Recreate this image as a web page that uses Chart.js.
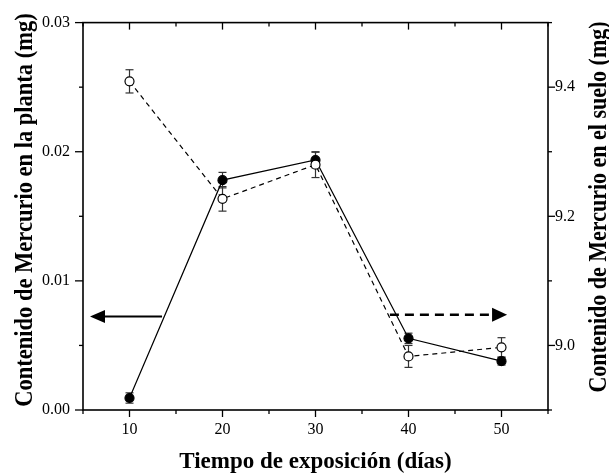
<!DOCTYPE html>
<html>
<head>
<meta charset="utf-8">
<script src="https://cdn.jsdelivr.net/npm/chart.js@4/dist/chart.umd.min.js"></script>
<style>
  html, body { margin: 0; padding: 0; background: #fff; }
</style>
</head>
<body>
<canvas id="c" width="609" height="474"></canvas>
<script>
'use strict';

// exposure time (days)
const days = [10, 20, 30, 40, 50];
// Hg in plant (mg), left axis
const plantHg = [0.00093, 0.0178, 0.01936, 0.00555, 0.00378];
const plantErr = [0.0004, 0.0006, 0.0006, 0.0004, 0.0003];
// Hg in soil (mg), right axis
const soilHg = [9.409, 9.227, 9.280, 8.983, 8.997];
const soilErr = [0.018, 0.019, 0.020, 0.017, 0.015];
// arrows pointing to their axis: [x from, x to, y]
const plantArrow = [13.5, 5.75, 0.00725];
const soilArrow = [38, 50.6, 9.0475];

const SERIF = '"Liberation Serif", "Times New Roman", serif';
const TICKFONT = { family: SERIF, size: 16 };

function seg(ctx, x0, y0, x1, y1) {
  ctx.beginPath();
  ctx.moveTo(x0, y0);
  ctx.lineTo(x1, y1);
  ctx.stroke();
}

function arrow(ctx, xs, ys, a, dash, lw, len, half) {
  const x0 = xs.getPixelForValue(a[0]);
  const x1 = xs.getPixelForValue(a[1]);
  const y = ys.getPixelForValue(a[2]);
  const dir = Math.sign(x1 - x0);
  ctx.save();
  ctx.strokeStyle = '#000';
  ctx.fillStyle = '#000';
  ctx.lineWidth = lw;
  ctx.setLineDash(dash);
  seg(ctx, x0, y, x1 - dir * len, y);
  ctx.setLineDash([]);
  ctx.beginPath();
  ctx.moveTo(x1, y);
  ctx.lineTo(x1 - dir * len, y - half);
  ctx.lineTo(x1 - dir * len, y + half);
  ctx.closePath();
  ctx.fill();
  ctx.restore();
}

// rotated axis title, a bit taller across the line like the original
function vTitle(ctx, text, x, y, size) {
  ctx.save();
  ctx.translate(x, y);
  ctx.rotate(-Math.PI / 2);
  ctx.scale(1, 1.15);
  ctx.font = 'bold ' + size + 'px ' + SERIF;
  ctx.fillText(text, 0, 0);
  ctx.restore();
}

const decor = {
  id: 'decor',
  beforeDatasetsDraw(chart) {
    const ctx = chart.ctx, xs = chart.scales.x;
    const sets = [[chart.scales.y, plantHg, plantErr], [chart.scales.y1, soilHg, soilErr]];
    ctx.save();
    ctx.strokeStyle = '#333';
    ctx.lineWidth = 1.2;
    sets.forEach(([sc, vals, errs]) => {
      vals.forEach((v, i) => {
        const px = xs.getPixelForValue(days[i]);
        const t = sc.getPixelForValue(v + errs[i]);
        const b = sc.getPixelForValue(v - errs[i]);
        seg(ctx, px, t, px, b);
        seg(ctx, px - 4, t, px + 4, t);
        seg(ctx, px - 4, b, px + 4, b);
      });
    });
    ctx.restore();
  },
  afterDatasetsDraw(chart) {
    const ctx = chart.ctx;
    arrow(ctx, chart.scales.x, chart.scales.y, plantArrow, [], 2, 15, 6.5);
    arrow(ctx, chart.scales.x, chart.scales.y1, soilArrow, [9, 6], 2.5, 15, 7);
  },
  afterDraw(chart) {
    const ctx = chart.ctx;
    const { left, right, top, bottom } = chart.chartArea;
    const { x, y, y1 } = chart.scales;
    ctx.save();
    ctx.strokeStyle = '#000';
    ctx.lineWidth = 1.6;
    ctx.strokeRect(left, top, right - left, bottom - top);
    ctx.lineWidth = 1.3;
    x.ticks.forEach((t) => {
      const p = x.getPixelForValue(t.value);
      const L = t.label ? 7 : 4;
      seg(ctx, p, bottom, p, bottom + L);
      seg(ctx, p, top, p, top + L);
    });
    y.ticks.forEach((t) => {
      const p = y.getPixelForValue(t.value);
      seg(ctx, left - (t.label ? 8 : 4), p, left, p);
    });
    y1.ticks.forEach((t) => {
      const p = y1.getPixelForValue(t.value);
      seg(ctx, right, p, right + (t.label ? 7 : 4), p);
    });

    // axis titles
    ctx.fillStyle = '#000';
    ctx.textAlign = 'center';
    ctx.textBaseline = 'alphabetic';
    ctx.font = 'bold 23px ' + SERIF;
    ctx.fillText('Tiempo de exposición (días)', (left + right) / 2, 468);
    vTitle(ctx, 'Contenido de Mercurio en la planta (mg)', 32, 210, 22.5);
    vTitle(ctx, 'Contenido de Mercurio en el suelo (mg)', 606, 207, 22);
    ctx.restore();
  },
};

new Chart(document.getElementById('c'), {
  type: 'line',
  data: {
    datasets: [
      {
        label: 'planta',
        data: days.map((d, i) => ({ x: d, y: plantHg[i] })),
        yAxisID: 'y',
        order: 1,
        borderColor: '#000',
        borderWidth: 1.2,
        backgroundColor: '#000',
        pointBackgroundColor: '#000',
        pointBorderColor: '#000',
        pointRadius: 4.5,
        tension: 0,
      },
      {
        label: 'suelo',
        data: days.map((d, i) => ({ x: d, y: soilHg[i] })),
        yAxisID: 'y1',
        order: 0,
        borderColor: '#000',
        borderWidth: 1.2,
        borderDash: [5, 4],
        pointBackgroundColor: '#fff',
        pointBorderColor: '#000',
        pointBorderWidth: 1.2,
        pointRadius: 4.5,
        tension: 0,
      },
    ],
  },
  options: {
    responsive: false,
    devicePixelRatio: 1,
    animation: false,
    layout: { padding: { top: 21, left: 0, right: 0, bottom: 0 } },
    plugins: { legend: { display: false }, tooltip: { enabled: false } },
    scales: {
      x: {
        type: 'linear',
        min: 5,
        max: 55,
        grid: { display: false, drawTicks: false },
        border: { display: false },
        ticks: {
          stepSize: 5,
          autoSkip: false,
          maxRotation: 0,
          padding: 10,
          color: '#000',
          font: TICKFONT,
          callback: (v) => (v % 10 === 0 ? String(v) : ''),
        },
        afterFit: (s) => { s.height = 64; },
      },
      y: {
        position: 'left',
        min: 0,
        max: 0.03,
        grid: { display: false, drawTicks: false },
        border: { display: false },
        ticks: {
          stepSize: 0.005,
          autoSkip: false,
          padding: 13,
          color: '#000',
          font: TICKFONT,
          callback: (v) => (Math.round(v * 1000) % 10 === 0 ? v.toFixed(2) : ''),
        },
        afterFit: (s) => { s.width = 83; },
      },
      y1: {
        position: 'right',
        min: 8.9,
        max: 9.5,
        grid: { display: false, drawTicks: false },
        border: { display: false },
        ticks: {
          stepSize: 0.1,
          autoSkip: false,
          padding: 7,
          color: '#000',
          font: TICKFONT,
          callback: (v) => {
            const k = Math.round(v * 10);
            return k % 2 === 0 ? (k / 10).toFixed(1) : '';
          },
        },
        afterFit: (s) => { s.width = 61; },
      },
    },
  },
  plugins: [decor],
});
</script>
</body>
</html>
